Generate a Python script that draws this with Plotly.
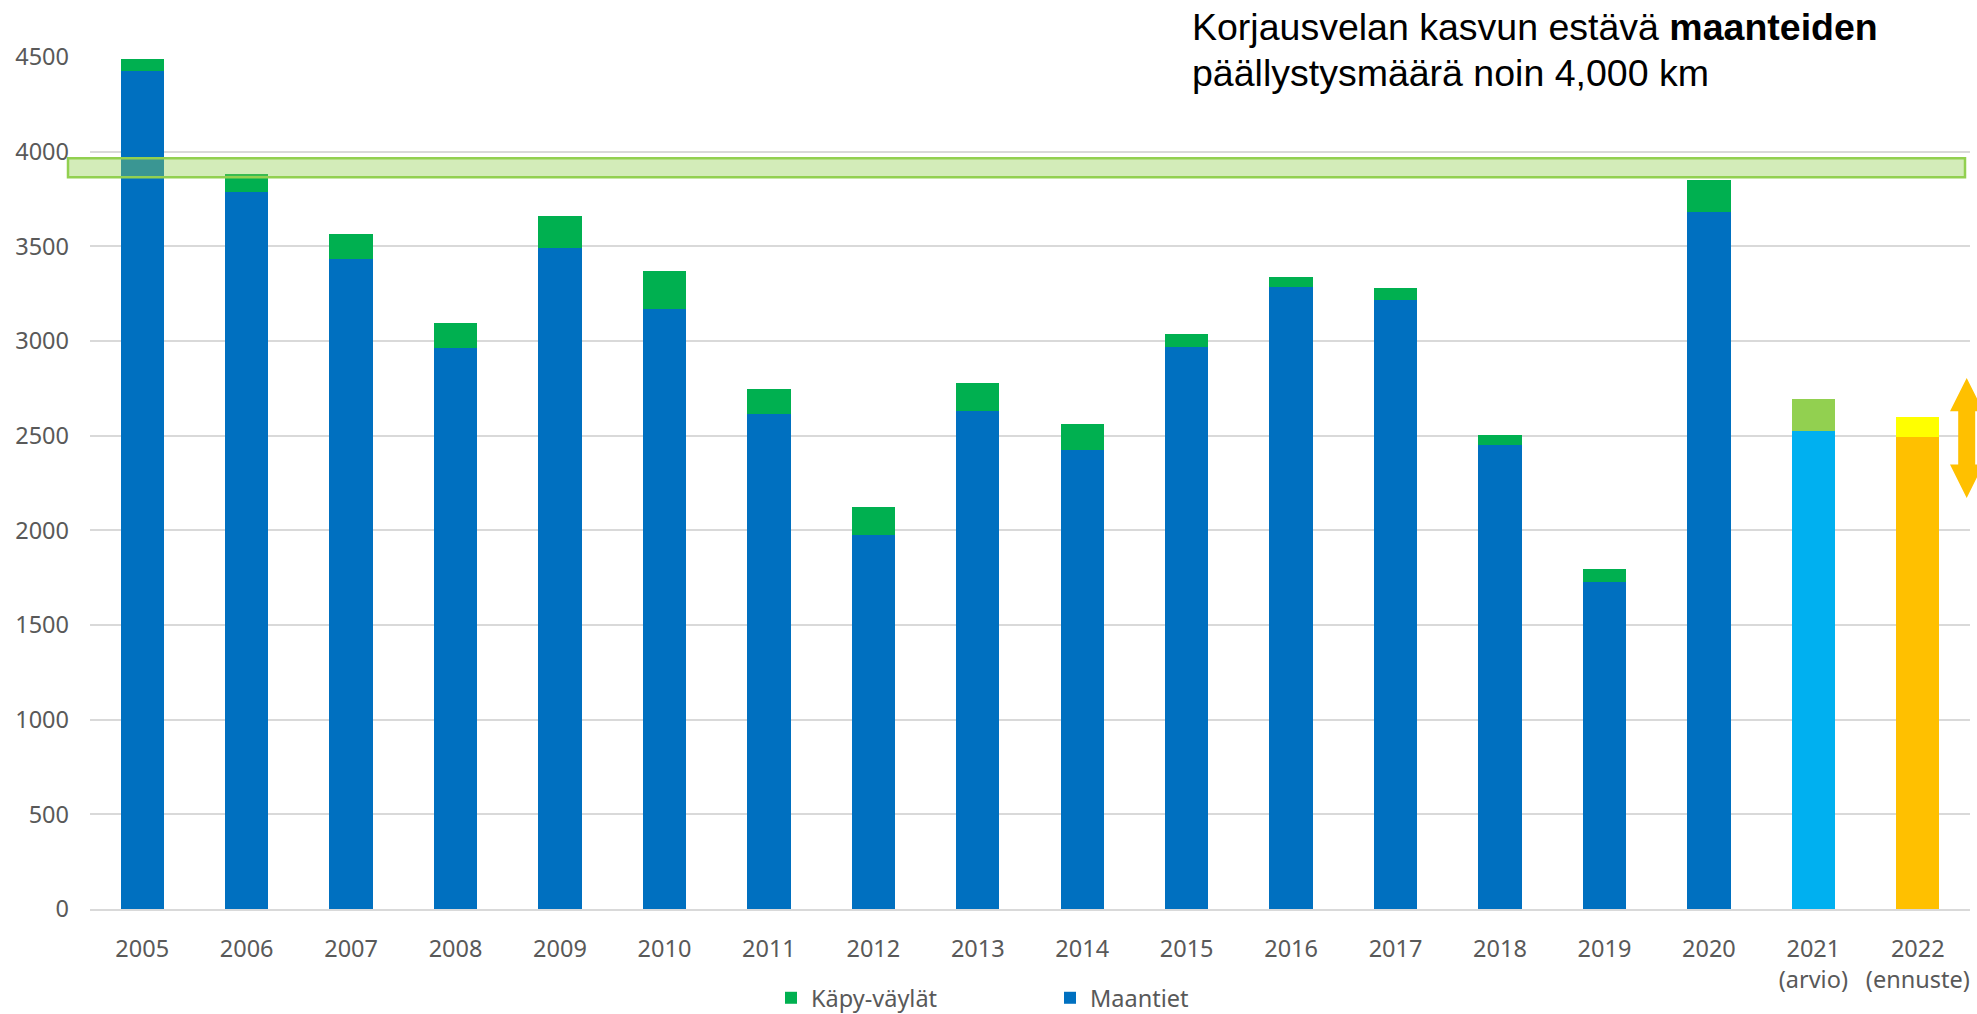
import plotly.graph_objects as go

# ---- data ----
years = ["2005", "2006", "2007", "2008", "2009", "2010", "2011", "2012", "2013",
         "2014", "2015", "2016", "2017", "2018", "2019", "2020", "2021", "2022"]
tick_labels = ["2005", "2006", "2007", "2008", "2009", "2010", "2011", "2012", "2013",
               "2014", "2015", "2016", "2017", "2018", "2019", "2020",
               "2021<br>(arvio)", "2022<br>(ennuste)"]
maantiet = [4428, 3785, 3433, 2965, 3489, 3167, 2612, 1973, 2632,
            2422, 2968, 3283, 3217, 2449, 1725, 3679, 2523, 2495]
kapy_vaylat = [61, 97, 132, 130, 169, 203, 134, 152, 146,
               140, 69, 55, 61, 53, 71, 173, 171, 105]
target_band = [3865, 3965]          # "noin 4,000 km" band
forecast_range = [2171, 2805]       # arrow range for 2022 forecast

blue_colors = ["#0070C0"] * 16 + ["#00B0F0", "#FFC000"]
green_colors = ["#00B050"] * 16 + ["#92D050", "#FFFF00"]

W, H = 1977, 1014
ML, MR, MT, MB = 90, 7, 57, 105
PW, PH = W - ML - MR, H - MT - MB

def px_x(px):
    return (px - ML) / PW

def px_y(py):
    return (H - MB - py) / PH

font_main = "Noto Sans, Open Sans, sans-serif"
tick_color = "#595959"

fig = go.Figure()
fig.add_trace(go.Bar(x=years, y=maantiet, name="Maantiet",
                     marker=dict(color=blue_colors, line=dict(width=0))))
fig.add_trace(go.Bar(x=years, y=kapy_vaylat, name="Käpy-väylät",
                     marker=dict(color=green_colors, line=dict(width=0))))

fig.update_layout(
    width=W, height=H,
    margin=dict(l=ML, r=MR, t=MT, b=MB, autoexpand=False),
    barmode="stack", bargap=0.585,
    plot_bgcolor="white", paper_bgcolor="white",
    font=dict(family=font_main, size=23.5, color=tick_color),
    legend=dict(orientation="h", traceorder="reversed",
                x=px_x(771), xanchor="left", y=px_y(998), yanchor="middle",
                entrywidth=234, entrywidthmode="pixels",
                font=dict(family=font_main, size=23.5, color=tick_color),
                bgcolor="rgba(0,0,0,0)"),
    showlegend=True,
)
fig.update_xaxes(type="category", tickvals=years, ticktext=tick_labels,
                 showgrid=False, showline=True, linecolor="#D9D9D9", linewidth=2,
                 ticks="", ticklabelstandoff=18,
                 tickfont=dict(family=font_main, size=23.5, color=tick_color))
fig.update_yaxes(range=[0, 4500], dtick=500, tick0=0,
                 showgrid=True, gridcolor="#D9D9D9", gridwidth=1.5,
                 zeroline=False, showline=False, ticks="",
                 ticklabelstandoff=20,
                 tickfont=dict(family=font_main, size=23.5, color=tick_color))

# target band (semi-transparent green)
fig.add_shape(type="rect", xref="paper", yref="y",
              x0=px_x(68), x1=px_x(1965), y0=target_band[0], y1=target_band[1],
              fillcolor="rgba(146,208,80,0.4)", line=dict(color="#92D050", width=2.5),
              layer="above")

# white text box behind the note
fig.add_shape(type="rect", xref="paper", yref="paper",
              x0=px_x(1158), x1=px_x(1652), y0=px_y(110), y1=px_y(0),
              fillcolor="white", line=dict(width=0), layer="above")

# double-headed arrow for the 2022 forecast range
cx = px_x(1966.7)
hw = 16.7 / PW
sw = 8.5 / PW
y_top, y_bot = forecast_range[1], forecast_range[0]
ytop_p = (y_top / 4500)
ybot_p = (y_bot / 4500)
head_h = 33.4 / PH
path = (f"M {cx},{ytop_p} L {cx+hw},{ytop_p-head_h} L {cx+sw},{ytop_p-head_h} "
        f"L {cx+sw},{ybot_p+head_h} L {cx+hw},{ybot_p+head_h} L {cx},{ybot_p} "
        f"L {cx-hw},{ybot_p+head_h} L {cx-sw},{ybot_p+head_h} L {cx-sw},{ytop_p-head_h} "
        f"L {cx-hw},{ytop_p-head_h} Z")
fig.add_shape(type="path", xref="paper", yref="paper", path=path,
              fillcolor="#FFC000", line=dict(width=0), layer="above")

title_font = "Liberation Sans, Arial, sans-serif"
fig.add_annotation(xref="paper", yref="paper", x=px_x(1190), y=px_y(27),
                   xanchor="left", yanchor="middle", showarrow=False,
                   text="Korjausvelan kasvun estävä <b>maanteiden</b>",
                   font=dict(family=title_font, size=37.5, color="black"))
fig.add_annotation(xref="paper", yref="paper", x=px_x(1190), y=px_y(73),
                   xanchor="left", yanchor="middle", showarrow=False,
                   text="päällystysmäärä noin 4,000 km",
                   font=dict(family=title_font, size=37.5, color="black"))

fig.write_html("out.html", config={"displayModeBar": False},
               post_script="document.body.style.margin='0';document.body.style.overflow='hidden';")
